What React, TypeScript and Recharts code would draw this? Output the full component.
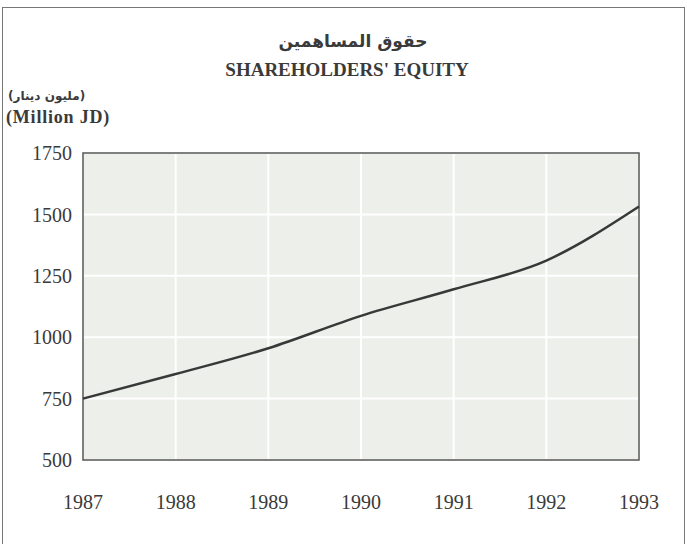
import { LineChart, Line, XAxis, YAxis, CartesianGrid, ReferenceArea } from 'recharts'

const years = ['1987', '1988', '1989', '1990', '1991', '1992', '1993']
const equity = [750, 850, 955, 1087, 1195, 1312, 1532]
const yTicks = [500, 750, 1000, 1250, 1500, 1750]

const data = years.map((year, i) => ({ year, equity: equity[i] }))

const textColor = '#3a3a3a'
const serif = '"Liberation Serif", "DejaVu Serif", serif'
const arabic = '"DejaVu Sans", "Noto Sans", sans-serif'

export default function App() {
  return (
    <div style={{ position: 'absolute', left: 0, top: 0, width: 687, height: 544, background: '#fff', overflow: 'hidden' }}>
      {/* outer frame */}
      <div
        style={{
          position: 'absolute',
          left: 2,
          top: 7,
          width: 681,
          height: 560,
          borderTop: '1.5px solid #777',
          borderLeft: '1.5px solid #777',
          borderRight: '1.5px solid #777'
        }}
      />
      <div style={{ position: 'absolute', left: 0, width: 706, top: 31, textAlign: 'center', fontFamily: arabic, fontWeight: 'bold', fontSize: 17, color: textColor, direction: 'rtl' }}>
        حقوق المساهمين
      </div>
      <div style={{ position: 'absolute', left: 0, width: 694, top: 59, textAlign: 'center', fontFamily: serif, fontWeight: 'bold', fontSize: 19, color: textColor }}>
        SHAREHOLDERS' EQUITY
      </div>
      <div style={{ position: 'absolute', left: 8, top: 89, fontFamily: arabic, fontWeight: 'bold', fontSize: 12, color: textColor, direction: 'rtl' }}>
        (مليون دينار)
      </div>
      <div style={{ position: 'absolute', left: 6, top: 107, fontFamily: serif, fontWeight: 'bold', fontSize: 18, letterSpacing: 0.8, color: textColor }}>
        (Million JD)
      </div>
      <LineChart width={687} height={544} data={data} margin={{ top: 153, right: 48, bottom: 34, left: 0 }}>
        <CartesianGrid fill="#ecefea" stroke="#ffffff" strokeWidth={2} />
        <ReferenceArea x1="1987" x2="1993" y1={500} y2={1750} fill="none" stroke="#555" strokeWidth={1.5} />
        <XAxis
          dataKey="year"
          axisLine={false}
          tickLine={false}
          tickSize={0}
          tickMargin={35}
          height={50}
          tick={{ fontSize: 20, fontFamily: serif, fill: textColor }}
        />
        <YAxis
          domain={[500, 1750]}
          ticks={yTicks}
          axisLine={false}
          tickLine={false}
          tickSize={0}
          tickMargin={11}
          width={83}
          tick={{ fontSize: 20, fontFamily: serif, fill: textColor }}
        />
        <Line
          type="monotone"
          dataKey="equity"
          stroke="#383838"
          strokeWidth={2.5}
          dot={false}
          isAnimationActive={false}
        />
      </LineChart>
    </div>
  )
}
